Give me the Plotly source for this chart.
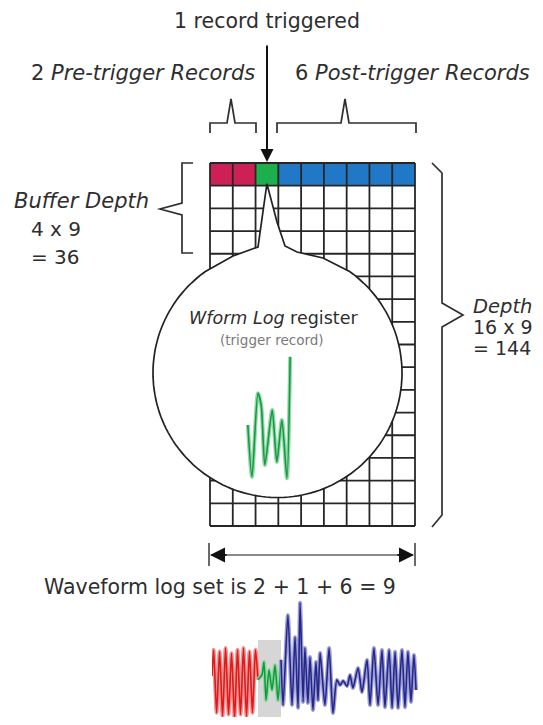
import numpy as np
import plotly.graph_objects as go

# ---- data -------------------------------------------------------------
n_pre = 2
n_trig = 1
n_post = 6
n_depth_rows = 16
n_buffer_rows = 4
record_kinds = ['pre', 'pre', 'trig', 'post', 'post', 'post', 'post', 'post', 'post']
kind_colors = {'pre': '#cc2056', 'trig': '#1daf4c', 'post': '#2078c6'}

title_text = '1 record triggered'
pre_text = '2 <i>Pre-trigger Records</i>'
post_text = '6 <i>Post-trigger Records</i>'
buffer_text = ['<i>Buffer Depth</i>', '4 x 9', '= 36']
depth_text = ['<i>Depth</i>', '16 x 9', '= 144']
bubble_title = '<i>Wform Log</i> register'
bubble_sub = '(trigger record)'
footer_text = 'Waveform log set is 2 + 1 + 6 = 9'

# trigger record shown in the bubble (time as fraction of record, amplitude)
trig_t = [0.04, 0.13, 0.26, 0.33, 0.41, 0.57, 0.67, 0.78, 0.89, 0.96]
trig_v = [-0.12, -0.95, 0.39, 0.20, -0.76, 0.12, -0.71, -0.04, -0.97, 0.97]

# full log set waveform, time in records
pre_t = [0.00, 0.07, 0.20, 0.33, 0.46, 0.59, 0.72, 0.85, 0.98, 1.11, 1.24, 1.37,
         1.50, 1.63, 1.76, 1.89, 2.00]
pre_v = [0.20, 0.95, -0.85, 0.90, -0.95, 1.00, -0.90, 0.85, -1.00, 0.95, -0.90,
         1.00, -0.95, 0.90, -0.85, 0.95, 0.10]
tr_t = [2.00, 2.17, 2.26, 2.35, 2.48, 2.61, 2.74, 2.87, 3.00]
tr_v = [0.10, 0.23, 0.60, -0.49, 0.37, -0.20, 0.51, -0.49, 0.66]
post_t = [3.00, 3.09, 3.30, 3.48, 3.61, 3.74, 3.83, 3.96, 4.04, 4.17, 4.26, 4.39,
          4.52, 4.61, 4.70, 4.91, 5.09, 5.26, 5.43, 5.57, 5.70, 5.87, 6.00, 6.13,
          6.35, 6.52, 6.74, 6.87, 7.04, 7.22, 7.39, 7.52, 7.70, 7.83, 7.96, 8.09,
          8.26, 8.39, 8.52, 8.65, 8.78, 8.87]
post_v = [0.66, -0.63, 1.94, -0.63, 1.31, -0.71, 2.29, -0.54, 1.00, -0.57, 0.74,
          -0.77, 0.60, -0.49, 0.86, -0.63, 1.00, -0.86, 0.09, -0.06, 0.06, -0.09,
          0.23, -0.14, 0.43, -0.26, 0.66, -0.63, 1.00, -0.63, 0.94, -0.69, 0.94,
          -0.71, 0.89, -0.71, 0.94, -0.69, 0.89, -0.54, 0.80, -0.20]

# ---- geometry (window pixels) -----------------------------------------
W, H = 543, 725
OFF = 8                          # page body margin
FW, FH = W - OFF, H - 2 * OFF    # figure size, keeps the page from scrolling
Y_END = OFF + FH
gx0, gx1, gy0, gy1 = 210, 415, 163, 526
n_cols = len(record_kinds)
cw = (gx1 - gx0) / n_cols
rh = (gy1 - gy0) / n_depth_rows
cx, cy, r = 277.5, 373, 124.5
FONT = 'DejaVu Sans'
INK = '#2e2e2e'


def dom_x(a, b):
    return [(a - OFF) / FW, (b - OFF) / FW]


def dom_y(top, bottom):
    return [1 - (bottom - OFF) / FH, 1 - (top - OFF) / FH]


fig = go.Figure()
shapes = []

# top row coloured records
for i, kind in enumerate(record_kinds):
    shapes.append(dict(type='rect', x0=gx0 + i * cw, x1=gx0 + (i + 1) * cw,
                       y0=gy0, y1=gy0 + rh, fillcolor=kind_colors[kind],
                       line_width=0, layer='below'))
# grid lines
for i in range(n_cols + 1):
    x = gx0 + i * cw
    shapes.append(dict(type='line', x0=x, x1=x, y0=gy0, y1=gy1,
                       line=dict(color='#262626', width=1.8), layer='below'))
for j in range(n_depth_rows + 1):
    y = gy0 + j * rh
    shapes.append(dict(type='line', x0=gx0, x1=gx1, y0=y, y1=y,
                       line=dict(color='#262626', width=1.8), layer='below'))

# speech bubble: circle with a spike to the trigger record
thL = np.deg2rad(234.6)
thR = np.deg2rad(-54.6)
th = np.linspace(thL, thR, 140)
pts = [(cx + r * np.cos(t), cy + r * np.sin(t)) for t in th]
path = 'M ' + ' L '.join(f'{x:.1f},{y:.1f}' for x, y in pts)
tip_x, tip_y = gx0 + 2.5 * cw, gy0 + rh - 2
path += f' L 323,258 L 297,252 L 285,246 L 277,222 L {tip_x:.1f},{tip_y:.1f}'
path += ' L 258,247 L 233,256 Z'
shapes.append(dict(type='path', path=path, fillcolor='white',
                   line=dict(color='#222', width=1.7), layer='below'))

bracket = dict(color=INK, width=1.7)
# small braces above pre / post records
shapes.append(dict(type='path', layer='below', line=bracket,
                   path='M 210,133 L 210,123 L 227,123 L 231,99 L 235,123 L 256,123 L 256,133'))
shapes.append(dict(type='path', layer='below', line=bracket,
                   path='M 277,133 L 277,123 L 341,123 L 345,99 L 349,123 L 416,123 L 416,133'))
# buffer depth brace
shapes.append(dict(type='path', layer='below', line=bracket,
                   path='M 193,163 L 182,163 L 182,203 L 160,209 L 182,215 L 182,253 L 193,253'))
# full depth brace
shapes.append(dict(type='path', layer='below', line=bracket,
                   path='M 432,163 L 442,173 L 442,303 L 463,315 L 442,327 L 442,515 L 432,527'))
# width arrow
shapes.append(dict(type='line', x0=211, x1=413, y0=555, y1=555, layer='below',
                   line=dict(color='#8a8a8a', width=2)))
for x in (209, 415):
    shapes.append(dict(type='line', x0=x, x1=x, y0=543, y1=566, layer='below',
                       line=dict(color='#6a6a6a', width=2)))
# grey band behind the trigger part of the log set
shapes.append(dict(type='rect', xref='x2', yref='y2', x0=2, x1=3, y0=-1.3, y1=1.23,
                   fillcolor='#d6d6d6', line_width=0, layer='below'))

# ---- waveforms -------------------------------------------------------
def wave(t, v, core, halo, xa, ya):
    fig.add_trace(go.Scatter(x=t, y=v, mode='lines', xaxis=xa, yaxis=ya,
                             line=dict(color=halo, width=4, shape='spline', smoothing=0.7),
                             hoverinfo='skip'))
    fig.add_trace(go.Scatter(x=t, y=v, mode='lines', xaxis=xa, yaxis=ya,
                             line=dict(color=core, width=1.6, shape='spline', smoothing=0.7),
                             hoverinfo='skip'))


wave(trig_t, trig_v, '#149a40', '#92d8a8', 'x3', 'y3')
wave(pre_t, pre_v, '#e01818', '#f49494', 'x2', 'y2')
wave(tr_t, tr_v, '#139a3c', '#8fd6a2', 'x2', 'y2')
wave(post_t, post_v, '#24268c', '#9c9ed2', 'x2', 'y2')

# ---- text -------------------------------------------------------------
ann = []


def label(x, y, text, size=20, anchor='center', color=INK):
    ann.append(dict(x=x, y=y, xref='x', yref='y', text=text, showarrow=False,
                    xanchor=anchor, yanchor='middle',
                    font=dict(family=FONT, size=size, color=color)))


label(267, 21, title_text, size=20.5)
label(257, 73, pre_text, size=21, anchor='right')
label(293, 73, post_text, size=21, anchor='left')
label(12, 201, buffer_text[0], size=21, anchor='left')
label(29, 229, buffer_text[1], anchor='left')
label(29, 257, buffer_text[2], anchor='left')
label(471, 306, depth_text[0], size=19.5, anchor='left')
label(471, 327, depth_text[1], size=19, anchor='left')
label(471, 348, depth_text[2], size=19, anchor='left')
label(273, 318, bubble_title, size=17.5)
label(272, 340, bubble_sub, size=13.5, color='#7a7a7a')
label(42, 587, footer_text, size=20.5, anchor='left')

# arrows
ann.append(dict(x=267, y=162, ax=267, ay=44, xref='x', yref='y', axref='x', ayref='y',
                text='', showarrow=True, arrowhead=2, arrowsize=1.3, arrowwidth=2,
                arrowcolor='#111'))
ann.append(dict(x=210, y=555, ax=228, ay=555, xref='x', yref='y', axref='x', ayref='y',
                text='', showarrow=True, arrowhead=2, arrowsize=1.5, arrowwidth=2,
                arrowcolor='#111'))
ann.append(dict(x=414, y=555, ax=396, ay=555, xref='x', yref='y', axref='x', ayref='y',
                text='', showarrow=True, arrowhead=2, arrowsize=1.5, arrowwidth=2,
                arrowcolor='#111'))

hidden = dict(visible=False, showgrid=False, zeroline=False, fixedrange=True)
fig.update_layout(
    width=FW, height=FH,
    margin=dict(l=0, r=0, t=0, b=0),
    paper_bgcolor='white', plot_bgcolor='rgba(0,0,0,0)',
    showlegend=False,
    shapes=shapes, annotations=ann,
    xaxis=dict(range=[OFF, W], domain=[0, 1], **hidden),
    yaxis=dict(range=[Y_END, OFF], domain=[0, 1], **hidden),
    xaxis2=dict(range=[0, 9], domain=dom_x(212, 419), anchor='y2', **hidden),
    yaxis2=dict(range=[-1.2, 2.4 - 0.0], domain=[0, 1 - (599 - OFF) / FH], anchor='x2', **hidden),
    xaxis3=dict(range=[-0.05, 1.05], domain=dom_x(243.7, 294.3), anchor='y3', **hidden),
    yaxis3=dict(range=[-1.1, 1.1], domain=dom_y(348.75, 486.25), anchor='x3', **hidden),
)
# bottom strip is shorter now: rescale its range so amplitude keeps 35 px per unit
fig.update_layout(yaxis2_range=[2.4 - (Y_END - 599) / 35, 2.4])

fig.write_html('out.html')
